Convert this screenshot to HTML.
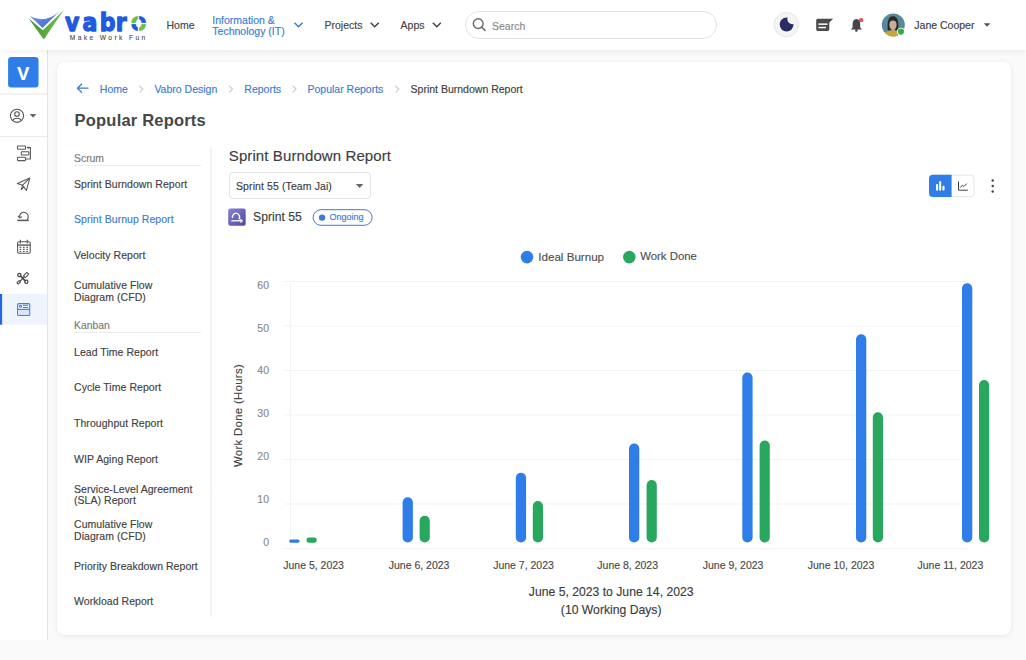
<!DOCTYPE html>
<html><head><meta charset="utf-8">
<style>
*{box-sizing:border-box;margin:0;padding:0}
html,body{width:1026px;height:660px;overflow:hidden;background:#fafafa;font-family:"Liberation Sans",Arial,sans-serif;color:#3d3d3d}
.abs{position:absolute}
.t{position:absolute;white-space:nowrap;line-height:1;-webkit-text-stroke:0.15px currentColor}
#hdr{position:absolute;left:0;top:0;width:1026px;height:50px;background:#fff;box-shadow:0 1px 6px rgba(0,0,0,.075);z-index:3}
#side{position:absolute;left:0;top:50px;width:48px;height:590px;background:#fff;border-right:1px solid #e4e4e4;z-index:2}
#card{position:absolute;left:57px;top:62px;width:954px;height:573px;background:#fff;border-radius:8px;box-shadow:0 1px 5px rgba(0,0,0,.08)}
.nav{font-size:10.5px;color:#444;z-index:5}
.bc{font-size:10.5px;top:84.3px;color:#3a7bd5}
.li{font-size:10.5px;color:#424242;left:74px;letter-spacing:.05px}
.li.blue{color:#3a7bd5}
.cap{font-size:10.4px;color:#7a7a7a;left:74px}
.ylab{font-size:10.5px;color:#8a8a8a;text-align:right;width:30px;left:239px}
.xlab{font-size:10.5px;color:#4a4a4a;width:80px;text-align:center}
</style></head><body>
<div id="hdr"></div>
<div id="side"></div>
<div id="card"></div>

<!-- ============ HEADER CONTENT ============ -->
<svg class="abs" style="left:0;top:0;z-index:4" width="1026" height="50">
  <defs>
    <linearGradient id="lgB" x1="0" y1="0" x2="1" y2="1"><stop offset="0" stop-color="#7b9ae6"/><stop offset="1" stop-color="#3b63d6"/></linearGradient>
    <linearGradient id="lgG" x1="0" y1="0" x2="1" y2="0"><stop offset="0" stop-color="#3f8f2c"/><stop offset=".5" stop-color="#5aae3c"/><stop offset="1" stop-color="#72c24c"/></linearGradient>
    <pattern id="opat" patternUnits="userSpaceOnUse" x="0" y="0" width="1200" height="50">
      <rect x="0" y="0" width="153.9" height="23.5" fill="#6dbf48"/>
      <rect x="153.9" y="0" width="100" height="23.5" fill="#1f5ae0"/>
      <rect x="0" y="23.5" width="153.9" height="30" fill="#1f5ae0"/>
      <rect x="153.9" y="23.5" width="100" height="30" fill="#6dbf48"/>
      <rect x="153.3" y="0" width="1.2" height="50" fill="#fff"/>
      <rect x="0" y="22.9" width="300" height="1.2" fill="#fff"/>
    </pattern>
    <clipPath id="avc"><circle cx="893.3" cy="24.9" r="11.5"/></clipPath>
    <mask id="moonm"><rect x="770" y="8" width="40" height="34" fill="#fff"/><circle cx="792.4" cy="19.3" r="5" fill="#000"/></mask>
  </defs>
  <!-- logo check -->
  <path d="M28.5 18.3 L43.8 39.4 L63.8 10 L42.8 30.2 Z" fill="url(#lgG)"/>
  <path d="M29.8 16.1 Q45 24.5 59.6 11.3 L42.6 28.1 Z" fill="url(#lgB)"/>
  <!-- vabr letters -->
  <text transform="scale(0.9,1)" font-family="DejaVu Sans" font-weight="bold" font-size="24.5" fill="#1f5ae0" stroke="#1f5ae0" stroke-width="1.3" stroke-linejoin="round"><tspan x="72.33" y="31">v</tspan><tspan x="91.56" y="31">a</tspan><tspan x="110.78" y="31">b</tspan><tspan x="128.56" y="31">r</tspan><tspan x="144.6" y="31" font-size="27" fill="url(#opat)" stroke="none">o</tspan></text>
  <text x="69.8" y="40" font-family="Liberation Sans" font-size="6.7" fill="#4a4a4a" stroke="#4a4a4a" stroke-width="0.1" letter-spacing="2.36">Make Work Fun</text>

  <!-- nav chevrons -->
  <path d="M294.5 22.8 L298.5 26.8 L302.5 22.8" fill="none" stroke="#3a7bd5" stroke-width="1.5"/>
  <path d="M370.7 22.8 L374.7 26.8 L378.7 22.8" fill="none" stroke="#444" stroke-width="1.5"/>
  <path d="M432.8 22.8 L436.8 26.8 L440.8 22.8" fill="none" stroke="#444" stroke-width="1.5"/>

  <!-- search -->
  <rect x="465.5" y="11.5" width="251" height="27" rx="13.5" fill="#fff" stroke="#e2e2e2"/>
  <circle cx="478.2" cy="23.6" r="4.9" fill="none" stroke="#6a6a6a" stroke-width="1.4"/>
  <path d="M481.8 27.2 L485 30.4" stroke="#6a6a6a" stroke-width="1.5" stroke-linecap="round"/>

  <!-- moon -->
  <circle cx="786.3" cy="24.6" r="12.2" fill="#f5f5f6" stroke="#e7e7e9"/>
  <circle cx="786.6" cy="24.5" r="6.9" fill="#2a2d62" mask="url(#moonm)"/>

  <!-- message -->
  <path d="M817.8 18.7 H833.2 L829.3 22.4 V29.3 Q829.3 30.9 827.7 30.9 H817.8 Q816.2 30.9 816.2 29.3 V20.3 Q816.2 18.7 817.8 18.7 Z" fill="#4a4a4a"/>
  <rect x="818.4" y="23.4" width="9.1" height="1.5" fill="#fff"/>
  <rect x="818.4" y="26.8" width="7.6" height="1.5" fill="#fff"/>

  <!-- bell -->
  <path d="M856.4 18.9 C853.6 19.1 852.6 21.4 852.6 24 V27.6 L850.8 29.6 H862 L860.2 27.6 V24 C860.2 21.4 859.2 19.1 856.4 18.9 Z" fill="#454545"/>
  <circle cx="856.4" cy="30.4" r="1.3" fill="#454545"/>
  <circle cx="861.1" cy="20.2" r="2.1" fill="#e84c4c"/>

  <!-- avatar -->
  <g clip-path="url(#avc)">
    <rect x="880" y="12" width="27" height="27" fill="#58889c"/>
    <path d="M887.8 30.5 C887.2 24 887.4 16.3 893 16.3 C898.6 16.3 898.8 23.5 898.2 30.5 Z" fill="#2d2824"/>
    <ellipse cx="893" cy="24.6" rx="3.6" ry="5.4" fill="#c9ad99"/>
    <path d="M889.2 22.5 C889.6 18.6 892 18 894 18.4 C896.2 18.8 897.2 20.5 897 23 C895.6 20.6 893 20.2 891.4 20.8 C890.4 21.2 889.8 21.8 889.2 22.5Z" fill="#2d2824"/>
    <path d="M882 38 C883 32.5 887 30.6 893 30.6 C899 30.6 903 32.5 904 38 Z" fill="#c8a832"/>
    <rect x="891.5" y="28.6" width="3.2" height="2.6" fill="#bf9f88"/>
  </g>
  <circle cx="900.9" cy="31.6" r="3.9" fill="#fff"/>
  <circle cx="900.9" cy="31.6" r="3.1" fill="#2fb14a"/>
  <path d="M983.8 23.2 H990.3 L987.05 26.8 Z" fill="#555"/>
</svg>
<div class="t nav" style="left:166.5px;top:20px">Home</div>
<div class="t nav" style="left:212.3px;top:14.5px;line-height:11.3px;color:#3a7bd5">Information &amp;<br>Technology (IT)</div>
<div class="t nav" style="left:324.5px;top:20px">Projects</div>
<div class="t nav" style="left:400.6px;top:20px">Apps</div>
<div class="t" style="left:492px;top:20.5px;font-size:10.5px;color:#8a8a8a;z-index:5">Search</div>
<div class="t" style="left:914.3px;top:20px;font-size:10.5px;color:#3d3d3d;z-index:5">Jane Cooper</div>

<!-- ============ SIDEBAR CONTENT ============ -->
<svg class="abs" style="left:0;top:0;z-index:4" width="48" height="660">
  <rect x="8.1" y="57" width="30.4" height="30.5" rx="3.2" fill="#2f7de8"/>
  <rect x="0" y="93.6" width="47" height="1" fill="#e6e6e6"/>
  <!-- profile -->
  <circle cx="17" cy="115.8" r="6.6" fill="none" stroke="#555" stroke-width="1.1"/>
  <circle cx="17" cy="114" r="2.3" fill="none" stroke="#555" stroke-width="1.1"/>
  <path d="M12.7 120.6 C14 117.4 20 117.4 21.3 120.6" fill="none" stroke="#555" stroke-width="1.1"/>
  <path d="M29.7 114 H36.4 L33.05 117.7 Z" fill="#666"/>
  <rect x="0" y="136.2" width="47" height="1" fill="#e3e8f0"/>
  <!-- gantt -->
  <g fill="none" stroke="#5a5a5a" stroke-width="1.1">
    <rect x="17.5" y="146" width="8" height="3.3" rx=".6"/>
    <rect x="21.3" y="151.7" width="7.6" height="3.3" rx=".6"/>
    <rect x="17.5" y="157.3" width="8" height="3.3" rx=".6"/>
    <path d="M27.6 147.6 H30.4 V159 H25.5"/>
  </g>
  <path d="M26.6 147.6 L28.6 146.2 V149 Z" fill="#5a5a5a"/>
  <!-- send -->
  <g fill="none" stroke="#5a5a5a" stroke-width="1.05" stroke-linejoin="round">
    <path d="M17.3 183.4 L29.8 178.1 L26.4 190.4 L22.6 185.2 Z"/>
    <path d="M29.8 178.1 L22.6 185.2 L21.3 189.6 L23.9 186.9"/>
  </g>
  <!-- loop -->
  <g fill="none" stroke="#5a5a5a" stroke-width="1.1" stroke-linecap="round">
    <path d="M19.6 217.6 A4.4 4.4 0 1 1 27.2 219.6"/>
    <path d="M18.2 216.1 L19.6 217.9 L21.5 216.8"/>
  </g>
  <path d="M17.3 220.4 H28.8" stroke="#5a5a5a" stroke-width="1.5"/>
  <!-- calendar -->
  <g fill="none" stroke="#5a5a5a" stroke-width="1.1">
    <rect x="17.6" y="241.8" width="12.6" height="11.4" rx="1.2"/>
    <path d="M17.6 245.1 H30.2" stroke-width="1.4"/>
    <path d="M20.4 239.8 V243.4 M27.3 239.8 V243.4"/>
  </g>
  <g fill="#5a5a5a">
    <rect x="19.6" y="246.8" width="1.6" height="1.2"/><rect x="23" y="246.8" width="1.6" height="1.2"/><rect x="26.4" y="246.8" width="1.6" height="1.2"/>
    <rect x="19.6" y="248.8" width="1.6" height="1.2"/><rect x="23" y="248.8" width="1.6" height="1.2"/><rect x="26.4" y="248.8" width="1.6" height="1.2"/>
    <rect x="19.6" y="250.9" width="1.6" height="1.2"/><rect x="23" y="250.9" width="1.6" height="1.2"/><rect x="26.4" y="250.9" width="1.6" height="1.2"/>
  </g>
  <!-- tools -->
  <g fill="none" stroke="#4a4a4a" stroke-width="1.1" stroke-linecap="round" stroke-linejoin="round">
    <path d="M20.6 276.2 L25 280.6" stroke-width="1.8"/>
    <circle cx="19.3" cy="275" r="1.6" stroke-width="1.3"/>
    <circle cx="26.3" cy="281.8" r="1.6" stroke-width="1.3"/>
    <path d="M24.3 276.9 L20.4 280.8"/>
    <rect x="24.7" y="272.6" width="2.6" height="5" rx=".8" transform="rotate(45 26 275.1)"/>
    <rect x="17.8" y="280.6" width="1.9" height="3.4" rx=".5" transform="rotate(45 18.75 282.3)"/>
  </g>
  <!-- active -->
  <rect x="2" y="294" width="45" height="30.7" fill="#eef3fc"/>
  <rect x="0" y="294" width="2.1" height="30.7" fill="#2264e6"/>
  <g fill="none" stroke="#3c82e6" stroke-width="1.1">
    <rect x="17.6" y="303.6" width="12.1" height="11.8" rx="1"/>
    <path d="M17.6 309.4 H29.7"/>
    <circle cx="20.5" cy="306.3" r="1"/>
    <path d="M23 305.3 H28 M23 307.5 H28"/>
  </g>
  <rect x="18.2" y="310" width="10.9" height="4.9" fill="#d6e5fb"/>
</svg>
<div class="t" style="left:8.1px;top:64.5px;width:30.4px;text-align:center;font-size:18.5px;font-weight:bold;color:#fff;z-index:5">V</div>

<!-- ============ BREADCRUMB ============ -->
<svg class="abs" style="left:0;top:0" width="1026" height="660">
  <path d="M88 88.2 H77.6 M81.6 84 L77.4 88.2 L81.6 92.4" fill="none" stroke="#3a7bd5" stroke-width="1.3" stroke-linecap="round" stroke-linejoin="round"/>
  <g fill="none" stroke="#c9c9c9" stroke-width="1.1">
    <path d="M139.5 85.8 L142.8 89.1 L139.5 92.4"/>
    <path d="M229.2 85.8 L232.5 89.1 L229.2 92.4"/>
    <path d="M292.8 85.8 L296.1 89.1 L292.8 92.4"/>
    <path d="M395.5 85.8 L398.8 89.1 L395.5 92.4"/>
  </g>
</svg>
<div class="t bc" style="left:99.8px">Home</div>
<div class="t bc" style="left:154.4px">Vabro Design</div>
<div class="t bc" style="left:244.3px">Reports</div>
<div class="t bc" style="left:307.5px">Popular Reports</div>
<div class="t bc" style="left:410.6px;color:#3d3d3d">Sprint Burndown Report</div>

<div class="t" style="left:74.6px;top:111.8px;font-size:16.5px;font-weight:bold;letter-spacing:.2px;color:#474747;-webkit-text-stroke:0">Popular Reports</div>

<!-- ============ LEFT LIST ============ -->
<div class="t cap" style="top:153.5px">Scrum</div>
<div class="abs" style="left:74px;top:164.6px;width:127px;height:1px;background:#ebebeb"></div>
<div class="t li" style="top:178.8px">Sprint Burndown Report</div>
<div class="t li blue" style="top:214.4px">Sprint Burnup Report</div>
<div class="t li" style="top:250.4px">Velocity Report</div>
<div class="t li" style="top:278.6px;line-height:12px">Cumulative Flow<br>Diagram (CFD)</div>
<div class="t cap" style="top:321px">Kanban</div>
<div class="abs" style="left:74px;top:332.4px;width:127px;height:1px;background:#ebebeb"></div>
<div class="t li" style="top:346.8px">Lead Time Report</div>
<div class="t li" style="top:382.3px">Cycle Time Report</div>
<div class="t li" style="top:417.6px">Throughput Report</div>
<div class="t li" style="top:453.6px">WIP Aging Report</div>
<div class="t li" style="top:483.6px;line-height:11.7px">Service-Level Agreement<br>(SLA) Report</div>
<div class="t li" style="top:518.8px;line-height:11.8px">Cumulative Flow<br>Diagram (CFD)</div>
<div class="t li" style="top:560.9px">Priority Breakdown Report</div>
<div class="t li" style="top:596.1px">Workload Report</div>
<div class="abs" style="left:209.8px;top:147px;width:2.4px;height:470px;background:#f4f4f4"></div>

<!-- ============ RIGHT PANEL ============ -->
<div class="t" style="left:228.8px;top:148px;font-size:15px;color:#3d3d3d;letter-spacing:.1px">Sprint Burndown Report</div>
<div class="abs" style="left:228.8px;top:172.2px;width:142px;height:27.3px;border:1px solid #e4e4e4;border-radius:4px;background:#fff"></div>
<div class="t" style="left:236px;top:181px;font-size:10.5px;color:#3d3d3d;letter-spacing:.1px">Sprint 55 (Team Jai)</div>
<svg class="abs" style="left:0;top:0" width="1026" height="660">
  <path d="M355.8 183.9 H363.4 L359.6 187.9 Z" fill="#666"/>
  <defs><linearGradient id="sg" x1="0" y1="0" x2="1" y2="1"><stop offset="0" stop-color="#8882d6"/><stop offset="1" stop-color="#4f49a0"/></linearGradient></defs>
  <rect x="228.2" y="208.6" width="17.5" height="17.2" rx="2" fill="url(#sg)"/>
  <path d="M232.6 218.1 A3.6 3.6 0 1 1 238.8 219.2" fill="none" stroke="#fff" stroke-width="1.4"/>
  <path d="M231.3 220.8 H241.8" stroke="#fff" stroke-width="1.3"/>
  <path d="M240.4 219.1 L242.3 220.8 L240.4 222.5" fill="none" stroke="#fff" stroke-width="1.1"/>
  <rect x="313.1" y="209.7" width="59" height="15.6" rx="7.8" fill="#fff" stroke="#3a7bd5" stroke-width="1"/>
  <circle cx="322.1" cy="217.6" r="3.2" fill="#3a7bd5"/>
  <!-- toggle -->
  <rect x="929.5" y="175.2" width="44.5" height="21.5" rx="3.5" fill="#fff" stroke="#e2e6f0"/>
  <path d="M951.6 174.7 H933 Q929 174.7 929 178.7 V193 Q929 197 933 197 H951.6 Z" fill="#2f7de8"/>
  <g fill="#fff">
    <rect x="936" y="184" width="2.1" height="6.7" rx="1"/>
    <rect x="939.1" y="180.9" width="2.1" height="9.8" rx="1"/>
    <rect x="942.4" y="185.8" width="2.2" height="4.9" rx="1.1"/>
  </g>
  <g fill="none" stroke="#444" stroke-width="1">
    <path d="M958.5 181.5 V190.2 H967.9"/>
    <path d="M960.2 187.6 L962.4 185.2 L963.9 186.5 L966.8 183.6"/>
  </g>
  <circle cx="992.7" cy="180.5" r="1.2" fill="#444"/>
  <circle cx="992.7" cy="186" r="1.2" fill="#444"/>
  <circle cx="992.7" cy="191.5" r="1.2" fill="#444"/>
</svg>
<div class="t" style="left:253.1px;top:211px;font-size:12.2px;color:#3d3d3d">Sprint 55</div>
<div class="t" style="left:329.6px;top:213.2px;font-size:9px;color:#3a7bd5">Ongoing</div>

<!-- legend -->
<svg class="abs" style="left:0;top:0" width="1026" height="660">
  <circle cx="527" cy="257.1" r="6.3" fill="#2f7de8"/>
  <circle cx="629.3" cy="257.1" r="6.3" fill="#28a85e"/>
</svg>
<div class="t" style="left:538.3px;top:251.3px;font-size:11.6px;color:#4f4f4f">Ideal Burnup</div>
<div class="t" style="left:640.2px;top:251.3px;font-size:11.4px;color:#4f4f4f">Work Done</div>

<!-- chart -->
<svg class="abs" style="left:0;top:0" width="1026" height="660">
  <g stroke="#f3f3f3" stroke-width="1">
    <line x1="284" y1="281.5" x2="966" y2="281.5"/>
    <line x1="284" y1="326" x2="960" y2="326"/>
    <line x1="284" y1="370.5" x2="960" y2="370.5"/>
    <line x1="284" y1="415" x2="960" y2="415"/>
    <line x1="284" y1="459.5" x2="960" y2="459.5"/>
    <line x1="284" y1="504" x2="960" y2="504"/>
    <line x1="284" y1="548.5" x2="969" y2="548.5"/>
    <line x1="290.5" y1="283" x2="290.5" y2="548"/>
  </g>
  <g fill="#2f7de8">
    <rect x="289.2" y="539.5" width="10.4" height="3.2" rx="1.6"/>
    <rect x="402.6" y="497.2" width="10.3" height="45.4" rx="5.1"/>
    <rect x="515.8" y="472.7" width="10.3" height="69.9" rx="5.1"/>
    <rect x="629" y="443.6" width="10.3" height="99" rx="5.1"/>
    <rect x="742.3" y="372.4" width="10.3" height="170.2" rx="5.1"/>
    <rect x="856" y="334.3" width="10.3" height="208.3" rx="5.1"/>
    <rect x="962" y="283.2" width="10.3" height="259.4" rx="5.1"/>
  </g>
  <g fill="#28a85e">
    <rect x="306.5" y="537.5" width="10.2" height="5.2" rx="2.6"/>
    <rect x="419.6" y="515.7" width="10.2" height="26.9" rx="5.1"/>
    <rect x="532.8" y="501" width="10.2" height="41.6" rx="5.1"/>
    <rect x="646.6" y="480" width="10.2" height="62.6" rx="5.1"/>
    <rect x="759.6" y="440.5" width="10.2" height="102.1" rx="5.1"/>
    <rect x="872.8" y="412.3" width="10.2" height="130.3" rx="5.1"/>
    <rect x="979" y="380" width="10.2" height="162.6" rx="5.1"/>
  </g>
</svg>
<div class="t ylab" style="top:280.2px">60</div>
<div class="t ylab" style="top:322.8px">50</div>
<div class="t ylab" style="top:365.4px">40</div>
<div class="t ylab" style="top:408.4px">30</div>
<div class="t ylab" style="top:451.1px">20</div>
<div class="t ylab" style="top:493.9px">10</div>
<div class="t ylab" style="top:536.8px">0</div>
<div class="t" style="left:233.2px;top:466.5px;font-size:11.4px;color:#474747;letter-spacing:.3px;transform:rotate(-90deg);transform-origin:0 0">Work Done (Hours)</div>

<div class="t xlab" style="left:273.6px;top:560px">June 5, 2023</div>
<div class="t xlab" style="left:379.1px;top:560px">June 6, 2023</div>
<div class="t xlab" style="left:483.5px;top:560px">June 7, 2023</div>
<div class="t xlab" style="left:587.7px;top:560px">June 8, 2023</div>
<div class="t xlab" style="left:693.1px;top:560px">June 9, 2023</div>
<div class="t xlab" style="left:801px;top:560px">June 10, 2023</div>
<div class="t xlab" style="left:910.4px;top:560px">June 11, 2023</div>

<div class="t" style="left:511.2px;width:200px;text-align:center;top:585.7px;font-size:12.2px;color:#3d3d3d">June 5, 2023 to June 14, 2023</div>
<div class="t" style="left:511.2px;width:200px;text-align:center;top:604px;font-size:12.2px;color:#3d3d3d">(10 Working Days)</div>

</body></html>
